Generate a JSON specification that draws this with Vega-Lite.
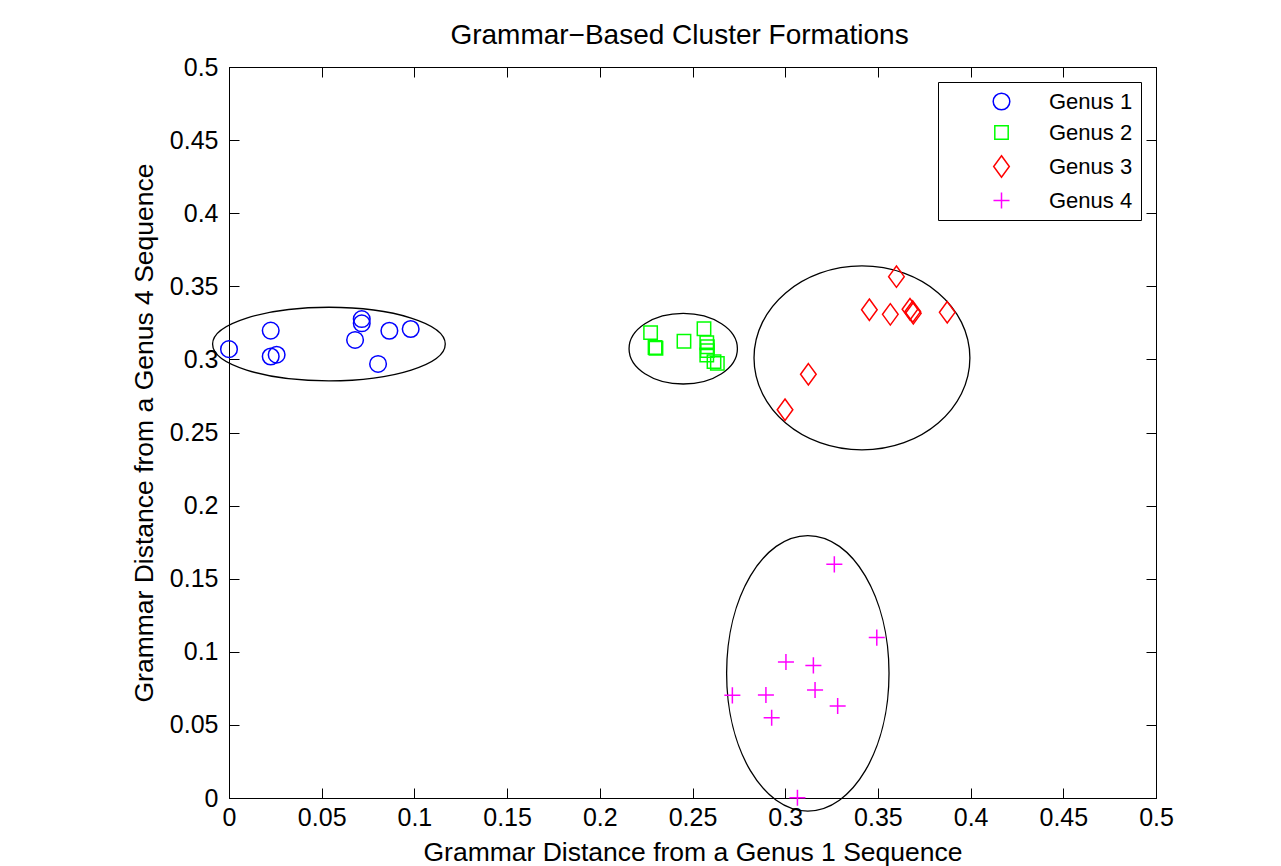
{
  "$schema": "https://vega.github.io/schema/vega-lite/v6.json",
  "width": 927,
  "height": 731,
  "autosize": "none",
  "padding": {"left": 229, "top": 67, "right": 125, "bottom": 68},
  "background": "white",
  "title": {"text": "Grammar−Based Cluster Formations", "font": "Liberation Sans", "fontSize": 28, "fontWeight": "normal", "color": "black", "offset": 5, "anchor": "middle", "dx": -13},
  "config": {
    "view": {"stroke": "black", "strokeWidth": 1},
    "axis": {"labelFont": "Liberation Sans", "labelFontSize": 25, "labelColor": "black", "titleFont": "Liberation Sans", "titleFontSize": 26.5, "titleFontWeight": "normal", "titleColor": "black", "domainColor": "black", "tickColor": "black", "grid": false, "labelFlush": false, "labelOverlap": false, "format": "~g"},
    "legend": {"orient": "top-right", "offset": 15, "padding": 8, "strokeColor": "black", "fillColor": "white", "labelFont": "Liberation Sans", "labelFontSize": 22, "labelColor": "black", "symbolSize": 458, "symbolStrokeWidth": 1.5, "symbolOffset": 44, "labelOffset": 36, "rowPadding": 8, "cornerRadius": 0}
  },
  "datasets": {
    "ellipses": [
      {"cluster": "Genus 1", "cx": 0.0539, "cy": 0.3105},
      {"cluster": "Genus 2", "cx": 0.245, "cy": 0.3073},
      {"cluster": "Genus 3", "cx": 0.3414, "cy": 0.301},
      {"cluster": "Genus 4", "cx": 0.3122, "cy": 0.0853}
    ],
    "points": [
      {"genus": "Genus 1", "x": 0.0, "y": 0.307},
      {"genus": "Genus 1", "x": 0.0225, "y": 0.3197},
      {"genus": "Genus 1", "x": 0.0225, "y": 0.302},
      {"genus": "Genus 1", "x": 0.0257, "y": 0.3032},
      {"genus": "Genus 1", "x": 0.068, "y": 0.3133},
      {"genus": "Genus 1", "x": 0.0716, "y": 0.3276},
      {"genus": "Genus 1", "x": 0.0716, "y": 0.3247},
      {"genus": "Genus 1", "x": 0.0804, "y": 0.2969},
      {"genus": "Genus 1", "x": 0.0865, "y": 0.3196},
      {"genus": "Genus 1", "x": 0.098, "y": 0.3208},
      {"genus": "Genus 2", "x": 0.2274, "y": 0.3183},
      {"genus": "Genus 2", "x": 0.2303, "y": 0.3076},
      {"genus": "Genus 2", "x": 0.2298, "y": 0.3081},
      {"genus": "Genus 2", "x": 0.2454, "y": 0.3124},
      {"genus": "Genus 2", "x": 0.2562, "y": 0.321},
      {"genus": "Genus 2", "x": 0.2577, "y": 0.3114},
      {"genus": "Genus 2", "x": 0.258, "y": 0.3087},
      {"genus": "Genus 2", "x": 0.258, "y": 0.306},
      {"genus": "Genus 2", "x": 0.2577, "y": 0.303},
      {"genus": "Genus 2", "x": 0.2616, "y": 0.2985},
      {"genus": "Genus 2", "x": 0.2634, "y": 0.2973},
      {"genus": "Genus 3", "x": 0.36, "y": 0.3566},
      {"genus": "Genus 3", "x": 0.3454, "y": 0.334},
      {"genus": "Genus 3", "x": 0.3567, "y": 0.3308},
      {"genus": "Genus 3", "x": 0.3673, "y": 0.3343},
      {"genus": "Genus 3", "x": 0.3688, "y": 0.3327},
      {"genus": "Genus 3", "x": 0.3691, "y": 0.3315},
      {"genus": "Genus 3", "x": 0.3874, "y": 0.3322},
      {"genus": "Genus 3", "x": 0.3125, "y": 0.2898},
      {"genus": "Genus 3", "x": 0.2999, "y": 0.2656},
      {"genus": "Genus 4", "x": 0.3265, "y": 0.1598},
      {"genus": "Genus 4", "x": 0.3494, "y": 0.1097},
      {"genus": "Genus 4", "x": 0.3004, "y": 0.093},
      {"genus": "Genus 4", "x": 0.3152, "y": 0.0907},
      {"genus": "Genus 4", "x": 0.2715, "y": 0.0702},
      {"genus": "Genus 4", "x": 0.2896, "y": 0.0705},
      {"genus": "Genus 4", "x": 0.3161, "y": 0.0739},
      {"genus": "Genus 4", "x": 0.3283, "y": 0.0629},
      {"genus": "Genus 4", "x": 0.2927, "y": 0.0549},
      {"genus": "Genus 4", "x": 0.3066, "y": 0.0002}
    ]
  },
  "layer": [
    {
      "data": {"name": "ellipses"},
      "transform": [{"filter": "datum.cluster == 'Genus 1'"}],
      "mark": {"type": "point", "filled": false, "stroke": "black", "strokeWidth": 1.3, "size": 78400, "opacity": 1, "shape": "M-0.831,0A0.831,0.263,0,1,0,0.831,0A0.831,0.263,0,1,0,-0.831,0Z"},
      "encoding": {
        "x": {"field": "cx", "type": "quantitative", "scale": {"domain": [0, 0.5], "nice": false, "zero": false}, "axis": {"orient": "top", "values": [0, 0.05, 0.1, 0.15, 0.2, 0.25, 0.3, 0.35, 0.4, 0.45, 0.5], "tickSize": -10, "labels": false, "title": null}},
        "y": {"field": "cy", "type": "quantitative", "scale": {"domain": [0, 0.5], "nice": false, "zero": false}, "axis": {"orient": "right", "values": [0, 0.05, 0.1, 0.15, 0.2, 0.25, 0.3, 0.35, 0.4, 0.45, 0.5], "tickSize": -10, "labels": false, "title": null}}
      }
    },
    {
      "data": {"name": "ellipses"},
      "transform": [{"filter": "datum.cluster == 'Genus 2'"}],
      "mark": {"type": "point", "filled": false, "stroke": "black", "strokeWidth": 1.3, "size": 78400, "opacity": 1, "shape": "M-0.387,0A0.387,0.252,0,1,0,0.387,0A0.387,0.252,0,1,0,-0.387,0Z"},
      "encoding": {
        "x": {"field": "cx", "type": "quantitative", "axis": null},
        "y": {"field": "cy", "type": "quantitative", "axis": null}
      }
    },
    {
      "data": {"name": "ellipses"},
      "transform": [{"filter": "datum.cluster == 'Genus 3'"}],
      "mark": {"type": "point", "filled": false, "stroke": "black", "strokeWidth": 1.3, "size": 78400, "opacity": 1, "shape": "M-0.771,0A0.771,0.657,0,1,0,0.771,0A0.771,0.657,0,1,0,-0.771,0Z"},
      "encoding": {
        "x": {"field": "cx", "type": "quantitative", "axis": null},
        "y": {"field": "cy", "type": "quantitative", "axis": null}
      }
    },
    {
      "data": {"name": "ellipses"},
      "transform": [{"filter": "datum.cluster == 'Genus 4'"}],
      "mark": {"type": "point", "filled": false, "stroke": "black", "strokeWidth": 1.3, "size": 78400, "opacity": 1, "shape": "M-0.58,0A0.58,0.984,0,1,0,0.58,0A0.58,0.984,0,1,0,-0.58,0Z"},
      "encoding": {
        "x": {"field": "cx", "type": "quantitative", "axis": null},
        "y": {"field": "cy", "type": "quantitative", "axis": null}
      }
    },
    {
      "data": {"name": "points"},
      "mark": {"type": "point", "filled": false, "strokeWidth": 1.5, "size": 458, "opacity": 1},
      "encoding": {
        "x": {"field": "x", "type": "quantitative", "axis": {"orient": "bottom", "values": [0, 0.05, 0.1, 0.15, 0.2, 0.25, 0.3, 0.35, 0.4, 0.45, 0.5], "tickSize": -10, "labelPadding": 17, "title": "Grammar Distance from a Genus 1 Sequence", "titlePadding": 9}},
        "y": {"field": "y", "type": "quantitative", "axis": {"orient": "left", "values": [0, 0.05, 0.1, 0.15, 0.2, 0.25, 0.3, 0.35, 0.4, 0.45, 0.5], "tickSize": -10, "labelPadding": 21, "title": "Grammar Distance from a Genus 4 Sequence", "titlePadding": 11}},
        "color": {"field": "genus", "type": "nominal", "scale": {"domain": ["Genus 1", "Genus 2", "Genus 3", "Genus 4"], "range": ["#0000ff", "#00ff00", "#ff0000", "#ff00ff"]}, "legend": {"title": null}},
        "shape": {"field": "genus", "type": "nominal", "scale": {"domain": ["Genus 1", "Genus 2", "Genus 3", "Genus 4"], "range": [
          "M0.776,0A0.776,0.776,0,1,1,-0.776,0A0.776,0.776,0,1,1,0.776,0Z",
          "M-0.626,-0.626L0.626,-0.626L0.626,0.626L-0.626,0.626Z",
          "M0,-1L0.73,0L0,1L-0.73,0Z",
          "M-0.75,0L0.75,0M0,-0.75L0,0.75"
        ]}, "legend": {"title": null}}
      }
    }
  ],
  "resolve": {"axis": {"x": "independent", "y": "independent"}}
}
